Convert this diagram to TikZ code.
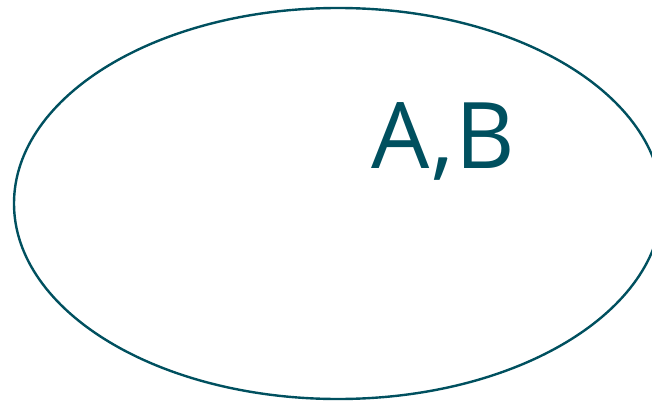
\documentclass[tikz,border=0pt]{standalone}
\usepackage{fontspec}
\setmainfont{Open Sans}
\definecolor{setteal}{HTML}{00505F}
\tikzset{%
  setline/.style={draw=setteal, line width=2.4pt},
  setlabel/.style={text=setteal, font=\fontsize{92}{92}\selectfont\addfontfeature{LetterSpace=2}, inner sep=0pt},
}
\begin{document}
\begin{tikzpicture}[x=1pt, y=-1pt]
    \useasboundingbox (0,0) rectangle (652,401);
    \clip (0,0) rectangle (652,401);

    % the set
    \coordinate (O) at (338,203.5);
    \draw[setline] (O) ellipse [x radius=324, y radius=195.5];

    % its elements
    \node[setlabel, anchor=base west] (AB) at (371,168) {A,B};
\end{tikzpicture}
\end{document}
